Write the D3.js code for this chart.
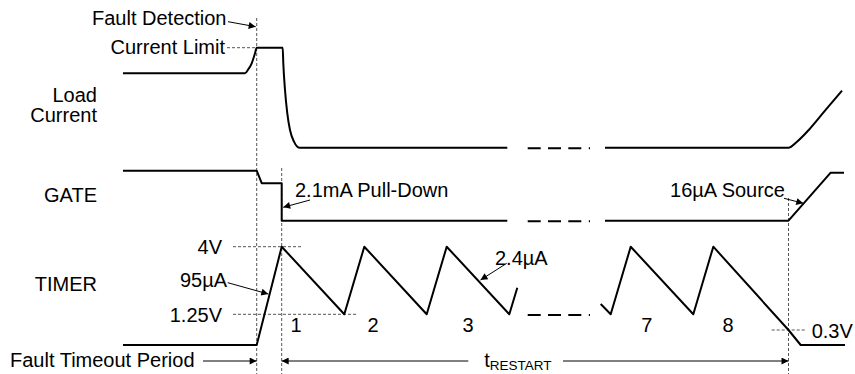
<!DOCTYPE html>
<html><head><meta charset="utf-8">
<script src="https://cdn.jsdelivr.net/npm/d3@7"></script>
<style>
html,body{margin:0;padding:0;background:#fff}
svg{display:block}
text{font-family:"Liberation Sans",Arial,Helvetica,sans-serif;fill:#000}
</style>
</head><body>
<svg id="chart" width="855" height="374"></svg>
<script>
// ---- Waveform data (time in arbitrary units) ----
// Load current, relative to the current limit (1 = limit)
const loadBefore = [[0,0.744],[12.2,0.744],[12.53,0.784],[12.87,0.844],[13.2,0.944],[13.37,1],
  [15.97,1],[16.03,0.844],[16.2,0.577],[16.43,0.344],[16.7,0.177],[17.1,0.06],[17.63,0],[38.43,0]];
const loadAfter = [[48.2,0],[66.55,0],[67.4,0.06],[68.6,0.18],[70.2,0.37],[71.9,0.57]];
// GATE, relative drive level (1 = fully on)
const gateBefore = [[0,1],[13.37,1],[13.87,0.75],[15.87,0.75],[15.87,0],[38.43,0]];
const gateAfter = [[48.2,0],[66.55,0],[70.77,0.96],[72.1,0.96]];
// TIMER pin voltage (V)
const timerBefore = [[0,0],[13.37,0],[15.87,4],[22.13,1.25],[24.13,4],[30.37,1.25],[32.37,4],[38.63,1.25],[39.43,2.33]];
const timerAfter = [[47.77,1.67],[48.77,1.25],[50.77,4],[57.03,1.25],[59.03,4],[66.55,0.3],[67.77,0],[72.2,0]];
// Event times
const faultT = 13.37, restartT = 15.87, endT = 66.55;
const breakSpan = [40.47, 46.7];
// TIMER threshold labels
const timerTicks = [{v:4,label:"4V"},{v:1.25,label:"1.25V"}];
const lowTick = {v:0.3,label:"0.3V"};
// Restart cycle numbers
const cycleLabels = ["1","2","3","7","8"];
const cycleT = [17.3, 25.0, 34.5, 52.37, 60.5];
// Trace names
const traceNames = {load:["Load","Current"], gate:"GATE", timer:"TIMER"};

// ---- Scales ----
const x = d3.scaleLinear().domain([0,72.2]).range([123,845]);
const yLoad = d3.scaleLinear().domain([0,1]).range([147.7,47.7]);
const yGate = d3.scaleLinear().domain([0,1]).range([220.7,170.7]);
const yTimer = d3.scaleLinear().domain([0,0.3,1.25,4]).range([345,330,314.3,246.7]);

const svg = d3.select("#chart");
const defs = svg.append("defs");
defs.append("marker").attr("id","ah").attr("viewBox","0 0 10 10")
  .attr("refX",10).attr("refY",5).attr("markerWidth",9).attr("markerHeight",7)
  .attr("markerUnits","userSpaceOnUse").attr("orient","auto")
  .append("path").attr("d","M0,0L10,5L0,10Z").attr("fill","#000");

const refStyle = s => s.attr("stroke","#555").attr("stroke-width",1).attr("stroke-dasharray","3,2").attr("fill","none");

// Vertical event markers
[[faultT,18],[restartT,168],[endT,198]].forEach(([t,y0]) => {
  svg.append("line").attr("x1",x(t)).attr("x2",x(t)).attr("y1",y0).attr("y2",374).call(refStyle);
});

// Horizontal threshold lines
svg.append("line").attr("x1",227).attr("x2",x(faultT)).attr("y1",yLoad(1)).attr("y2",yLoad(1)).call(refStyle);
svg.append("line").attr("x1",233).attr("x2",303).attr("y1",yTimer(4)).attr("y2",yTimer(4)).call(refStyle);
svg.append("line").attr("x1",233).attr("x2",358).attr("y1",yTimer(1.25)).attr("y2",yTimer(1.25)).call(refStyle);
svg.append("line").attr("x1",771.7).attr("x2",806.7).attr("y1",yTimer(lowTick.v)).attr("y2",yTimer(lowTick.v)).call(refStyle);

// Waveforms
const wave = (data, ys, curve) => svg.append("path")
  .attr("d", d3.line().x(d=>x(d[0])).y(d=>ys(d[1])).curve(curve)(data))
  .attr("fill","none").attr("stroke","#000").attr("stroke-width",2).attr("stroke-linejoin","round");
wave(loadBefore, yLoad, d3.curveMonotoneX);
wave(loadAfter, yLoad, d3.curveMonotoneX);
wave(gateBefore, yGate, d3.curveLinear);
wave(gateAfter, yGate, d3.curveLinear);
wave(timerBefore, yTimer, d3.curveLinear);
wave(timerAfter, yTimer, d3.curveLinear);

// Broken-time dashes
[[yLoad,0],[yGate,0],[yTimer,1.25]].forEach(([ys,v]) => {
  svg.append("line").attr("x1",x(breakSpan[0])).attr("x2",x(breakSpan[1]))
    .attr("y1",ys(v)+0.6).attr("y2",ys(v)+0.6)
    .attr("stroke","#000").attr("stroke-width",2).attr("stroke-dasharray","13,7.3,13,7.3,13,7.5,1.6,50");
});

// Trace names
const txt = (s,xx,yy,anchor) => svg.append("text").attr("x",xx).attr("y",yy)
  .attr("font-size",20).attr("text-anchor",anchor||"start").text(s);
txt(traceNames.load[0],97,101.7,"end");
txt(traceNames.load[1],97,121.7,"end");
txt(traceNames.gate,97,202,"end");
txt(traceNames.timer,97,291,"end");

// Threshold labels
txt("Current Limit",225,54,"end");
timerTicks.forEach(d => txt(d.label,222,yTimer(d.v)+7.3,"end"));
txt(lowTick.label,811.7,yTimer(lowTick.v)+8,"start");

// Cycle numbers
cycleLabels.forEach((s,i) => txt(s,x(cycleT[i]),332,"middle"));

// Annotations with arrows
const arrow = (x1,y1,x2,y2) => svg.append("line").attr("x1",x1).attr("y1",y1).attr("x2",x2).attr("y2",y2)
  .attr("stroke","#000").attr("stroke-width",1).attr("marker-end","url(#ah)");
txt("Fault Detection",226.5,25,"end");
arrow(228,21.7,x(faultT)-1,26.7);
txt("2.1mA Pull-Down",295,196.7,"start");
arrow(310,200,x(restartT)+1.5,207.3);
txt("16µA Source",785,196.7,"end");
arrow(784,198.3,803.3,203.3);
txt("95µA",227,287.3,"end");
arrow(227.7,282.7,268.3,294);
txt("2.4µA",495,265,"start");
arrow(506.7,263.3,480.5,280);

// Timing intervals at the bottom
const yArr = 361;
txt("Fault Timeout Period",10,366.7,"start");
arrow(203,yArr,x(faultT),yArr);
arrow(468.3,yArr,x(restartT),yArr);
arrow(563,yArr,x(endT),yArr);
const tr = svg.append("text").attr("x",484.3).attr("y",366.7).attr("font-size",20);
tr.append("tspan").text("t");
tr.append("tspan").attr("font-size",13.5).attr("dy",3).text("RESTART");
</script>
</body></html>
